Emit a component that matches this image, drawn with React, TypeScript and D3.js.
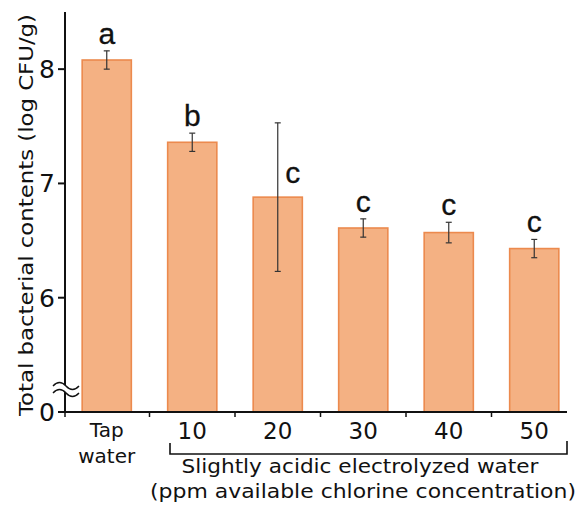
import * as d3 from "d3";

const categories = ["Tap water", "10", "20", "30", "40", "50"];
const means = [8.08, 7.36, 6.88, 6.61, 6.57, 6.43];
const errors = [0.08, 0.08, 0.65, 0.08, 0.09, 0.08];
const letters = ["a", "b", "c", "c", "c", "c"];
const yTickValues = [5, 6, 7, 8];
const yTickLabels = ["0", "6", "7", "8"];
const yTitle = "Total bacterial contents (log CFU/g)";
const groupLine1 = "Slightly acidic electrolyzed water";
const groupLine2 = "(ppm available chlorine concentration)";

const W = 579;
const H = 510;
const axisFont = "'DejaVu Sans', 'Liberation Sans', sans-serif";
const letterFont = "'Liberation Sans', Arial, sans-serif";

const App = () => {
  const y = d3.scaleLinear().domain([5, 8.5]).range([412, 12]);
  const x = d3
    .scaleBand<string>()
    .domain(categories)
    .range([64, 577])
    .paddingInner(0.425)
    .paddingOuter(0.2125);

  const bw = x.bandwidth();
  const step = x.step();
  const cx = (c: string) => x(c)! + bw / 2;
  const baseY = y(5);

  // break mark on the y axis
  const brk = (yy: number) => `M53,${yy + 2} q6.5,-7 13,0 t13,0`;

  return (
    <svg
      width={W}
      height={H}
      style={{ position: "absolute", left: 0, top: 0, display: "block" }}
    >
      <rect width={W} height={H} fill="#fff" />

      {/* bars */}
      {categories.map((c, i) => (
        <rect
          key={c}
          x={x(c)}
          y={y(means[i])}
          width={bw}
          height={baseY - y(means[i])}
          fill="#F4B183"
          stroke="#EC8A4E"
          strokeWidth={1.6}
        />
      ))}

      {/* error bars */}
      {categories.map((c, i) => {
        const top = y(means[i] + errors[i]);
        const bot = y(means[i] - errors[i]);
        const m = cx(c);
        return (
          <g key={c} stroke="#333" strokeWidth={1.2}>
            <line x1={m} x2={m} y1={top} y2={bot} />
            <line x1={m - 3} x2={m + 3} y1={top} y2={top} />
            <line x1={m - 3} x2={m + 3} y1={bot} y2={bot} />
          </g>
        );
      })}

      {/* significance letters */}
      {categories.map((c, i) => {
        const big = errors[i] > 0.3;
        const lx = big ? cx(c) + 15 : cx(c);
        const ly = big ? y(means[i]) - 14 : y(means[i] + errors[i]) - 7;
        return (
          <text
            key={c}
            x={lx}
            y={ly}
            textAnchor="middle"
            fontFamily={letterFont}
            fontSize={30}
            fill="#111"
            stroke="#111"
            strokeWidth={0.3}
          >
            {letters[i]}
          </text>
        );
      })}

      {/* y axis */}
      <line x1={65} x2={65} y1={y(8.5)} y2={baseY} stroke="#111" strokeWidth={2} />
      {yTickValues.map((v, i) => (
        <g key={v}>
          <line x1={58} x2={65} y1={y(v)} y2={y(v)} stroke="#111" strokeWidth={2} />
          <text
            x={55}
            y={y(v)}
            dy="0.36em"
            textAnchor="end"
            fontFamily={axisFont}
            fontSize={25}
            fill="#111"
          >
            {yTickLabels[i]}
          </text>
        </g>
      ))}
      <path
        d={`${brk(384)} L79,${393} q-6.5,7 -13,0 t-13,0 Z`}
        fill="#fff"
        stroke="none"
      />
      <path d={brk(384)} fill="none" stroke="#111" strokeWidth={1.4} />
      <path d={brk(391)} fill="none" stroke="#111" strokeWidth={1.4} />

      <text
        transform={`translate(33,${215}) rotate(-90)`}
        textAnchor="middle"
        fontFamily={axisFont}
        fontSize={20}
        fill="#111"
        textLength={402}
        lengthAdjust="spacingAndGlyphs"
      >
        {yTitle}
      </text>

      {/* x axis */}
      <line x1={64} x2={567} y1={baseY} y2={baseY} stroke="#111" strokeWidth={2} />
      {categories.slice(0, -1).map((c) => {
        const tx = cx(c) + step / 2;
        return (
          <line key={c} x1={tx} x2={tx} y1={baseY} y2={baseY + 5} stroke="#111" strokeWidth={1.5} />
        );
      })}
      <line x1={65} x2={65} y1={baseY} y2={baseY + 5} stroke="#111" strokeWidth={1.5} />

      {/* category labels */}
      <text
        x={cx(categories[0])}
        y={437}
        textAnchor="middle"
        fontFamily={axisFont}
        fontSize={20}
        fill="#111"
      >
        Tap
      </text>
      <text
        x={cx(categories[0])}
        y={463}
        textAnchor="middle"
        fontFamily={axisFont}
        fontSize={20}
        fill="#111"
      >
        water
      </text>
      {categories.slice(1).map((c) => (
        <text
          key={c}
          x={cx(c)}
          y={439}
          textAnchor="middle"
          fontFamily={axisFont}
          fontSize={23}
          fill="#111"
        >
          {c}
        </text>
      ))}

      {/* bracket under concentrations */}
      <path
        d={`M170,443 V454 H567 V441`}
        fill="none"
        stroke="#111"
        strokeWidth={1.6}
      />
      <text
        x={360}
        y={473}
        textAnchor="middle"
        fontFamily={axisFont}
        fontSize={20}
        fill="#111"
        textLength={357}
        lengthAdjust="spacingAndGlyphs"
      >
        {groupLine1}
      </text>
      <text
        x={363}
        y={498}
        textAnchor="middle"
        fontFamily={axisFont}
        fontSize={20}
        fill="#111"
        textLength={426}
        lengthAdjust="spacingAndGlyphs"
      >
        {groupLine2}
      </text>
    </svg>
  );
};

export default App;
